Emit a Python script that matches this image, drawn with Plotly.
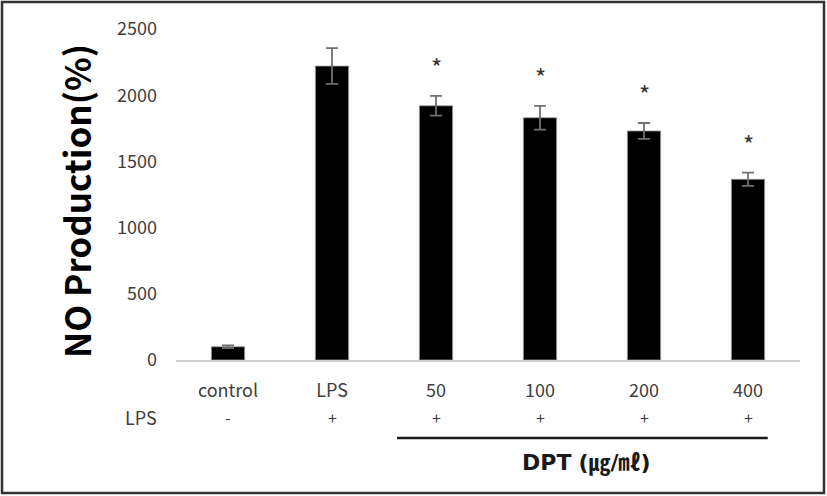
import plotly.graph_objects as go

categories = ["control", "LPS", "50", "100", "200", "400"]
values = [100, 2220, 1920, 1830, 1730, 1365]
errors = [10, 135, 75, 90, 60, 50]
lps_signs = ["-", "+", "+", "+", "+", "+"]
significant = [False, False, True, True, True, True]
y_ticks = [0, 500, 1000, 1500, 2000, 2500]

FONT = "Noto Sans CJK KR"

fig = go.Figure()
fig.add_trace(go.Bar(
    x=categories, y=values,
    marker=dict(color="#000000", line=dict(color="#a0a0a0", width=0.8)),
    error_y=dict(type="data", array=errors, visible=True, color="#707070",
                 thickness=1.8, width=6),
    width=0.32,
    hoverinfo="skip",
))

annotations = []
for i, (v, e, s) in enumerate(zip(values, errors, significant)):
    if s:
        annotations.append(dict(x=i, y=v + e, xref="x", yref="y", text="*",
                                showarrow=False, yanchor="bottom", yshift=10,
                                font=dict(family=FONT, size=24, color="#333333")))
for i, sign in enumerate(lps_signs):
    annotations.append(dict(x=i, y=-0.172, xref="x", yref="paper", text=sign,
                            showarrow=False, yanchor="middle",
                            font=dict(family=FONT, size=16, color="#404040")))
annotations.append(dict(x=-0.085, y=-0.172, xref="paper", yref="paper", text="LPS",
                        showarrow=False, yanchor="middle",
                        font=dict(family=FONT, size=18, color="#404040")))
annotations.append(dict(x=3.45, y=-0.311, xref="x", yref="paper",
                        text="<b>DPT</b> <b>(㎍/㎖)</b>", showarrow=False, yanchor="middle",
                        font=dict(family="DejaVu Sans, " + FONT, size=22, color="#1a1a1a")))
annotations.append(dict(x=-0.162, y=0.48, xref="paper", yref="paper",
                        text="<b>NO Production(%)</b>", textangle=-90,
                        showarrow=False, xanchor="center", yanchor="middle",
                        font=dict(family=FONT, size=35, color="#000000")))

shapes = [
    dict(type="line", xref="x", yref="paper", x0=1.625, x1=5.19, y0=-0.236, y1=-0.236,
         line=dict(color="#1a1a1a", width=2.5)),
    dict(type="rect", xref="paper", yref="paper",
         x0=(2 - 176) / 624, x1=(824 - 176) / 624,
         y0=(360 - 493) / 331, y1=(360 - 2) / 331,
         line=dict(color="#333333", width=2.5), fillcolor="rgba(0,0,0,0)"),
]

fig.update_layout(
    width=827, height=496,
    margin=dict(l=176, r=27, t=29, b=136),
    paper_bgcolor="white", plot_bgcolor="white",
    showlegend=False,
    annotations=annotations,
    shapes=shapes,
    font=dict(family=FONT, color="#404040"),
)
fig.update_xaxes(
    type="category", range=[-0.5, 5.5], showline=True, linecolor="#d0d0d0", linewidth=1.5,
    ticks="", showgrid=False, ticklabelstandoff=14,
    tickfont=dict(family=FONT, size=18, color="#404040"),
)
fig.update_yaxes(
    range=[0, 2500], tickvals=y_ticks, showgrid=False, zeroline=False,
    showline=False, ticks="", ticklabelstandoff=18,
    tickfont=dict(family=FONT, size=18, color="#404040"),
)

fig.write_html("out.html", config={"displayModeBar": False},
               post_script="document.body.style.margin='0';document.body.style.overflow='hidden';")
